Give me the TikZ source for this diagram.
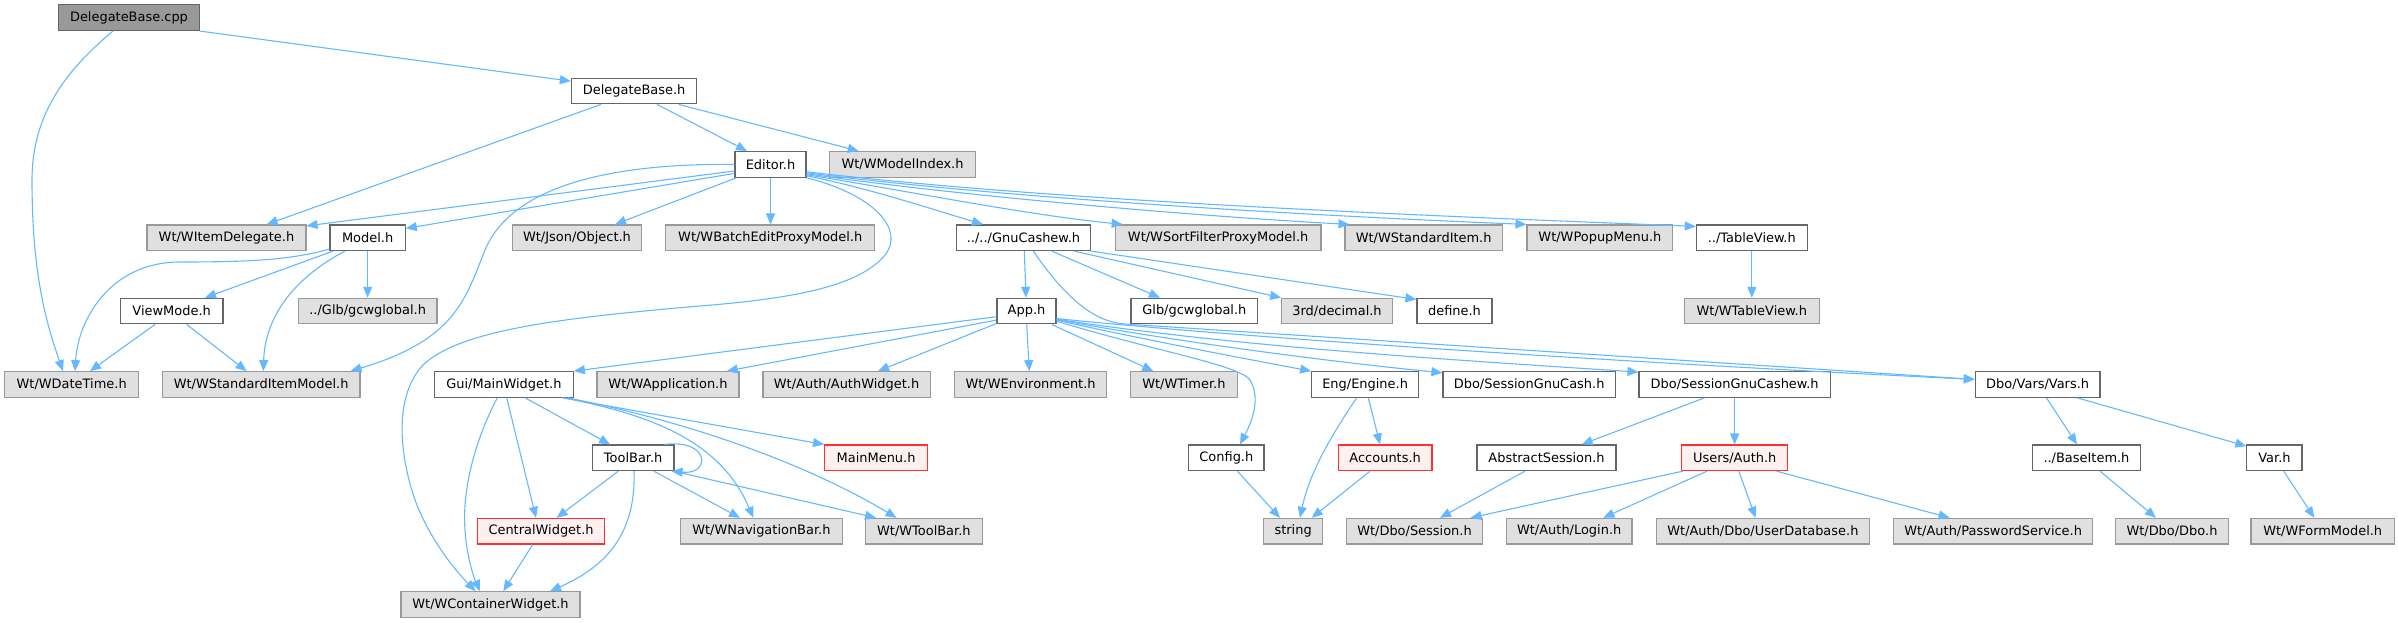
\documentclass[tikz,border=0pt]{standalone}
\usepackage{fontspec}
\setmainfont{DejaVu Sans}
\usetikzlibrary{arrows.meta}
\definecolor{edgeblue}{HTML}{63B8FF}
\definecolor{wborder}{HTML}{666666}
\definecolor{gborder}{HTML}{999999}
\definecolor{gfill}{HTML}{E0E0E0}
\definecolor{rootfill}{HTML}{999999}
\definecolor{rfill}{HTML}{FFF0F0}
\definecolor{rborder}{HTML}{FF3030}
\newcommand\mkbox[6]{\node[#2, minimum width={(#4)-(#3)}] (#1) at ({((#3)+(#4))/2},{17.7+73.35*((#5)-1)}) {#6};}
\begin{document}
\begin{tikzpicture}[x=1pt,y=-1pt,
  box/.style={rectangle, inner sep=0pt, minimum height=25.6pt, line width=1.1pt,
    font=\fontsize{12.95}{15}\selectfont, text=black},
  wbox/.style={box, draw=wborder, fill=white},
  gbox/.style={box, draw=gborder, fill=gfill},
  rbox/.style={box, draw=rborder, fill=rfill},
  rootbox/.style={box, draw=wborder, fill=rootfill},
  edge/.style={draw=edgeblue, line width=1.1pt, -{Triangle[length=11pt,width=9pt]}, fill=none}]
\useasboundingbox (0,0) rectangle (2398,623);
% row 1-3
\mkbox{cpp}{rootbox}{58.7}{199.3}{1}{DelegateBase.cpp}
\mkbox{dbh}{wbox}{571.4}{696.9}{2}{DelegateBase.h}
\mkbox{editor}{wbox}{735}{806}{3}{Editor.h}
\mkbox{modelidx}{gbox}{829.7}{975.3}{3}{Wt/WModelIndex.h}
% row 4
\mkbox{itemdel}{gbox}{147}{306}{4}{Wt/WItemDelegate.h}
\mkbox{model}{wbox}{330}{405.3}{4}{Model.h}
\mkbox{json}{gbox}{512.2}{641.8}{4}{Wt/Json/Object.h}
\mkbox{batch}{gbox}{665.8}{874.7}{4}{Wt/WBatchEditProxyModel.h}
\mkbox{gnu}{wbox}{956.3}{1090.7}{4}{../../GnuCashew.h}
\mkbox{sortf}{gbox}{1115.3}{1321}{4}{Wt/WSortFilterProxyModel.h}
\mkbox{stditem}{gbox}{1345}{1502.3}{4}{Wt/WStandardItem.h}
\mkbox{popup}{gbox}{1527}{1672.7}{4}{Wt/WPopupMenu.h}
\mkbox{tableview}{wbox}{1696.3}{1807.3}{4}{../TableView.h}
% row 5
\mkbox{viewmode}{wbox}{120.3}{223}{5}{ViewMode.h}
\mkbox{glbrel}{gbox}{298.3}{437}{5}{../Glb/gcwglobal.h}
\mkbox{app}{wbox}{997}{1056}{5}{App.h}
\mkbox{glb}{wbox}{1131}{1257.7}{5}{Glb/gcwglobal.h}
\mkbox{decimal}{gbox}{1281.7}{1392.3}{5}{3rd/decimal.h}
\mkbox{define}{wbox}{1417}{1492}{5}{define.h}
\mkbox{wtableview}{gbox}{1684.3}{1819.3}{5}{Wt/WTableView.h}
% row 6
\mkbox{datetime}{gbox}{4.7}{138.7}{6}{Wt/WDateTime.h}
\mkbox{stdmodel}{gbox}{162.3}{360}{6}{Wt/WStandardItemModel.h}
\mkbox{mainw}{wbox}{434.5}{573.3}{6}{Gui/MainWidget.h}
\mkbox{wapp}{gbox}{597}{739}{6}{Wt/WApplication.h}
\mkbox{authw}{gbox}{763}{930.1}{6}{Wt/Auth/AuthWidget.h}
\mkbox{wenv}{gbox}{954.6}{1106.5}{6}{Wt/WEnvironment.h}
\mkbox{wtimer}{gbox}{1130.5}{1237.3}{6}{Wt/WTimer.h}
\mkbox{engine}{wbox}{1311.7}{1418.5}{6}{Eng/Engine.h}
\mkbox{sgc}{wbox}{1443}{1615.3}{6}{Dbo/SessionGnuCash.h}
\mkbox{sgcew}{wbox}{1639}{1830.3}{6}{Dbo/SessionGnuCashew.h}
\mkbox{vars}{wbox}{1975.3}{2100}{6}{Dbo/Vars/Vars.h}
% row 7
\mkbox{toolbar}{wbox}{592.3}{674}{7}{ToolBar.h}
\mkbox{mainmenu}{rbox}{824.6}{927.6}{7}{MainMenu.h}
\mkbox{config}{wbox}{1188.7}{1264}{7}{Config.h}
\mkbox{accounts}{rbox}{1338.3}{1432}{7}{Accounts.h}
\mkbox{abstract}{wbox}{1477}{1616}{7}{AbstractSession.h}
\mkbox{auth}{rbox}{1681.6}{1787.8}{7}{Users/Auth.h}
\mkbox{baseitem}{wbox}{2032.1}{2140.8}{7}{../BaseItem.h}
\mkbox{var}{wbox}{2246.9}{2302}{7}{Var.h}
% row 8
\mkbox{central}{rbox}{477.4}{604.7}{8}{CentralWidget.h}
\mkbox{navbar}{gbox}{680.5}{842.3}{8}{Wt/WNavigationBar.h}
\mkbox{wtoolbar}{gbox}{865.6}{982.1}{8}{Wt/WToolBar.h}
\mkbox{string}{gbox}{1263.5}{1322.8}{8}{string}
\mkbox{dbosession}{gbox}{1346.3}{1482.7}{8}{Wt/Dbo/Session.h}
\mkbox{login}{gbox}{1506.4}{1632}{8}{Wt/Auth/Login.h}
\mkbox{userdb}{gbox}{1656.4}{1869.4}{8}{Wt/Auth/Dbo/UserDatabase.h}
\mkbox{pwservice}{gbox}{1893.4}{2092.9}{8}{Wt/Auth/PasswordService.h}
\mkbox{dbodbo}{gbox}{2115.8}{2228.1}{8}{Wt/Dbo/Dbo.h}
\mkbox{formmodel}{gbox}{2251}{2394.4}{8}{Wt/WFormModel.h}
% row 9
\mkbox{container}{gbox}{401}{580}{9}{Wt/WContainerWidget.h}

% ---- edges ----
\draw[edge] (cpp.south east) -- ([yshift=-3.45]dbh.north west);
\draw[edge] ([xshift=-16]cpp.south) .. controls (60,75) and (32,120) .. (32,180) .. controls (32,270) and (45,320) .. ([xshift=-8.7]datetime.north);
\draw[edge] ([xshift=-33.15]dbh.south) -- ([xshift=40.2]itemdel.north);
\draw[edge] ([xshift=22.85]dbh.south) -- ([xshift=-23.5]editor.north);
\draw[edge] ([xshift=44.45]dbh.south) -- ([xshift=-43.8]modelidx.north);
% Editor
\draw[edge] ([yshift=-6.6]editor.west) -- ([yshift=-1.5]itemdel.north east);
\draw[edge] ([yshift=-9]editor.west) -- ([yshift=-4]model.north east);
\draw[edge] ([xshift=2]editor.south west) -- ([xshift=38]json.north);
\draw[edge] (editor.south) -- (editor.south |- batch.north);
\draw[edge] ([yshift=2]editor.south east) .. controls +(60,12) and +(-60,-18) .. ([xshift=-40.5]gnu.north);
\draw[edge] ([yshift=3]editor.south east) .. controls +(100,16) and +(-100,-10) .. ([xshift=8]sortf.north west);
\draw[edge] ([yshift=4]editor.south east) .. controls +(150,22) and +(-150,-8) .. ([xshift=5]stditem.north west);
\draw[edge] ([yshift=5]editor.south east) .. controls +(200,26) and +(-200,-8) .. (popup.north west);
\draw[edge] ([yshift=6]editor.south east) .. controls +(250,30) and +(-250,-10) .. ([yshift=-2]tableview.north west);
\draw[edge] (editor.west) .. controls (600,163) and (510,190) .. (485,250) .. controls (465,300) and (455,340) .. ([xshift=-10]stdmodel.north east);
\draw[edge] (editor.south east) .. controls (875,195) and (905,230) .. (885,255) .. controls (860,285) and (800,298) .. (700,306) .. controls (560,318) and (460,330) .. (423,365) .. controls (395,395) and (398,450) .. (415,500) .. controls (430,540) and (455,570) .. ([xshift=-15]container.north);
% Model
\draw[edge] ([yshift=2]model.south west) .. controls (290,260) and (250,262) .. (180,262) .. controls (110,262) and (78,320) .. ([xshift=3.3]datetime.north);
\draw[edge] ([xshift=-34.65]model.south) -- ([xshift=33.35]viewmode.north);
\draw[edge] (model.south) -- (glbrel.north);
\draw[edge] ([xshift=-22.65]model.south) .. controls (290,280) and (265,320) .. ([xshift=2.15]stdmodel.north);
\draw[edge] ([xshift=-16.65]viewmode.south) -- ([xshift=18.3]datetime.north);
\draw[edge] ([xshift=15]viewmode.south) -- ([xshift=-14.5]stdmodel.north);
% GnuCashew
\draw[edge] ([xshift=0.8]gnu.south) -- ([xshift=-0.5]app.north);
\draw[edge] ([xshift=28.2]gnu.south) -- ([xshift=-34.35]glb.north);
\draw[edge] ([xshift=50.5]gnu.south) -- (decimal.north west);
\draw[edge] (gnu.south east) -- ([yshift=-1.7]define.north west);
\draw[edge] ([xshift=9.8]gnu.south) .. controls (1060,290) and (1090,322) .. (1125,324) -- ([yshift=-8.3]vars.north west);
% App
\draw[edge] ([yshift=-5.6]app.west) -- (mainw.north east);
\draw[edge] ([yshift=-9]app.west) -- ([xshift=58.7]wapp.north);
\draw[edge] ([yshift=-12.4]app.west) -- ([xshift=31.5]authw.north);
\draw[edge] ([xshift=0.2]app.south) -- ([xshift=-1.25]wenv.north);
\draw[edge] ([xshift=25.2]app.south) -- ([xshift=-30.6]wtimer.north);
\draw[edge] ([yshift=-10]app.east) .. controls (1150,350) and (1240,365) .. (1250,380) .. controls (1262,400) and (1250,425) .. ([xshift=13.65]config.north);
\draw[edge] ([yshift=-9]app.east) .. controls +(80,18) and +(-80,-15) .. (engine.north west);
\draw[edge] ([yshift=-8.5]app.east) .. controls +(120,22) and +(-120,-12) .. ([yshift=-1.7]sgc.north west);
\draw[edge] ([yshift=-8]app.east) .. controls +(180,28) and +(-180,-12) .. ([yshift=-1]sgcew.north west);
\draw[edge] ([yshift=-7.5]app.east) .. controls +(250,25) and +(-250,-12) .. ([yshift=-8.3]vars.north west);
% MainWidget
\draw[edge] ([xshift=-6.6]mainw.south) .. controls (475,440) and (462,490) .. (465,530) .. controls (467,560) and (475,580) .. ([xshift=-10.5]container.north);
\draw[edge] ([xshift=2.8]mainw.south) -- ([xshift=-5]central.north);
\draw[edge] ([xshift=21.1]mainw.south) -- ([xshift=-23]toolbar.north);
\draw[edge] ([xshift=-11.6]mainw.south east) -- (mainmenu.north west);
\draw[edge] ([xshift=-10]mainw.south east) .. controls (650,415) and (720,440) .. ([xshift=-8]navbar.north);
\draw[edge] ([xshift=-6.6]mainw.south east) .. controls (680,420) and (800,460) .. ([xshift=31.5]wtoolbar.north west);
% ToolBar
\draw[edge] ([xshift=-10]toolbar.north east) .. controls +(45,-6) and +(40,4) .. ([xshift=-3]toolbar.south east);
\draw[edge] ([xshift=-14.8]toolbar.south) -- ([xshift=15.6]central.north);
\draw[edge] ([xshift=0.85]toolbar.south) .. controls (636,530) and (610,565) .. ([xshift=59.5]container.north);
\draw[edge] ([xshift=-20.7]toolbar.south east) -- ([xshift=-21.4]navbar.north);
\draw[edge] ([xshift=-1]toolbar.south east) -- ([xshift=11]wtoolbar.north west);
\draw[edge] ([xshift=-8.35]central.south) -- ([xshift=12.8]container.north);
% Engine and others
\draw[edge] ([xshift=-8.4]engine.south) .. controls (1335,430) and (1310,470) .. ([xshift=6.85]string.north);
\draw[edge] ([xshift=3.2]engine.south) -- ([xshift=-5.15]accounts.north);
\draw[edge] ([xshift=-15.15]accounts.south) -- ([xshift=18.5]string.north);
\draw[edge] ([xshift=11]config.south) -- ([xshift=-13.15]string.north);
\draw[edge] ([xshift=-30]sgcew.south) -- ([xshift=35.2]abstract.north);
\draw[edge] (sgcew.south) -- (sgcew.south |- auth.north);
\draw[edge] ([xshift=-21.5]abstract.south) -- ([xshift=25.5]dbosession.north);
\draw[edge] ([xshift=1.7]auth.south west) -- ([xshift=-12.7]dbosession.north east);
\draw[edge] ([xshift=-27.7]auth.south) -- ([xshift=34.1]login.north);
\draw[edge] ([xshift=4.1]auth.south) -- ([xshift=-7.3]userdb.north);
\draw[edge] ([xshift=-11.8]auth.south east) -- ([xshift=-43.6]pwservice.north);
\draw[edge] ([xshift=8.75]vars.south) -- ([xshift=-9.45]baseitem.north);
\draw[edge] ([xshift=39.35]vars.south) -- ([yshift=-1.7]var.north west);
\draw[edge] ([xshift=13.55]baseitem.south) -- ([xshift=-15.95]dbodbo.north);
\draw[edge] ([xshift=9.25]var.south) -- ([xshift=-8.4]formmodel.north);
\draw[edge] (tableview.south) -- (tableview.south |- wtableview.north);
\end{tikzpicture}
\end{document}
